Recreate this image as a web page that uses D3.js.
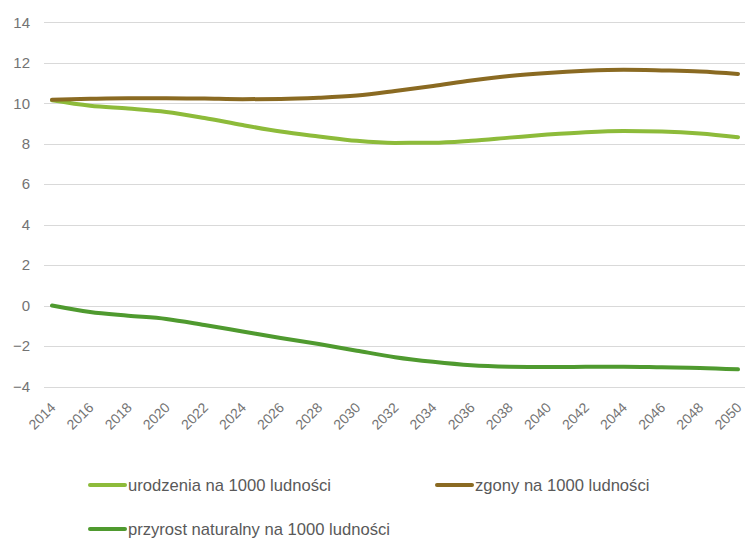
<!DOCTYPE html>
<html>
<head>
<meta charset="utf-8">
<script src="https://cdn.jsdelivr.net/npm/d3@7"></script>
<style>
  html, body { margin: 0; padding: 0; background: #ffffff; }
  svg { display: block; font-family: "Liberation Sans", Arial, sans-serif; }
</style>
</head>
<body>
<svg id="chart" width="745" height="538"></svg>
<script>
// ---- data ----
const years = [2014, 2016, 2018, 2020, 2022, 2024, 2026, 2028, 2030, 2032, 2034, 2036, 2038, 2040, 2042, 2044, 2046, 2048, 2050];
const urodzenia = [10.15, 9.88, 9.74, 9.57, 9.27, 8.92, 8.6, 8.36, 8.14, 8.04, 8.05, 8.15, 8.3, 8.45, 8.57, 8.63, 8.6, 8.5, 8.32];
const zgony = [10.17, 10.22, 10.25, 10.25, 10.23, 10.2, 10.21, 10.27, 10.38, 10.6, 10.85, 11.12, 11.35, 11.5, 11.6, 11.65, 11.62, 11.57, 11.45];
const przyrost = [0, -0.32, -0.5, -0.66, -0.96, -1.28, -1.6, -1.9, -2.23, -2.55, -2.78, -2.95, -3.02, -3.04, -3.03, -3.02, -3.05, -3.08, -3.15];
const yTicks = [-4, -2, 0, 2, 4, 6, 8, 10, 12, 14];
const seriesNames = ["urodzenia na 1000 ludności", "zgony na 1000 ludności", "przyrost naturalny na 1000 ludności"];
const seriesColors = ["#8dbb3a", "#8a6a22", "#4f9a2f"];

const svg = d3.select("#chart");
const plotLeft = 44, plotRight = 745;

const x = d3.scaleLinear().domain([2014, 2050]).range([52, 738]);
const y = d3.scaleLinear().domain([-4, 14]).range([386.5, 22.3]);

// gridlines
svg.append("g").selectAll("line").data(yTicks).join("line")
  .attr("x1", plotLeft).attr("x2", plotRight)
  .attr("y1", d => Math.round(y(d)) + 0.5).attr("y2", d => Math.round(y(d)) + 0.5)
  .attr("stroke", "#d9d9d9").attr("stroke-width", 1);

// y axis labels
const yAxis = d3.axisLeft(y).tickValues(yTicks).tickSize(0).tickPadding(0).tickFormat(d3.format("d"));
const yg = svg.append("g").attr("transform", "translate(30,0)").call(yAxis);
yg.select(".domain").remove();
yg.selectAll("text").attr("font-size", 15).attr("fill", "#737373")
  .attr("font-family", "Liberation Sans, Arial, sans-serif");

// x axis labels
const xAxis = d3.axisBottom(x).tickValues(years).tickSize(0).tickPadding(0).tickFormat(d3.format("d"));
const xg = svg.append("g").call(xAxis);
xg.select(".domain").remove();
xg.selectAll(".tick text")
  .attr("font-size", 14).attr("fill", "#737373")
  .attr("font-family", "Liberation Sans, Arial, sans-serif")
  .attr("text-anchor", "end")
  .attr("x", 0).attr("y", 0).attr("dy", "0.35em")
  .attr("transform", "translate(0.5,405) rotate(-45)");

// lines
const allSeries = [urodzenia, zgony, przyrost];
const line = d3.line().x((d, i) => x(years[i])).y(d => y(d)).curve(d3.curveMonotoneX);
[2, 0, 1].forEach(k => {
  svg.append("path").datum(allSeries[k])
    .attr("d", line)
    .attr("fill", "none")
    .attr("stroke", seriesColors[k])
    .attr("stroke-width", 4)
    .attr("stroke-linecap", "round")
    .attr("stroke-linejoin", "round");
});

// legend
const legendPos = [[90, 485], [437, 485], [90, 529]];
seriesNames.forEach((name, k) => {
  const [lx, ly] = legendPos[k];
  const g = svg.append("g").attr("transform", `translate(${lx},${ly})`);
  g.append("line").attr("x1", 0).attr("x2", 35).attr("y1", 0).attr("y2", 0)
    .attr("stroke", seriesColors[k]).attr("stroke-width", 4).attr("stroke-linecap", "round");
  g.append("text").attr("x", 38).attr("y", 0).attr("dy", "0.35em")
    .attr("font-size", 16.6).attr("fill", "#595959").text(name);
});
</script>
</body>
</html>
